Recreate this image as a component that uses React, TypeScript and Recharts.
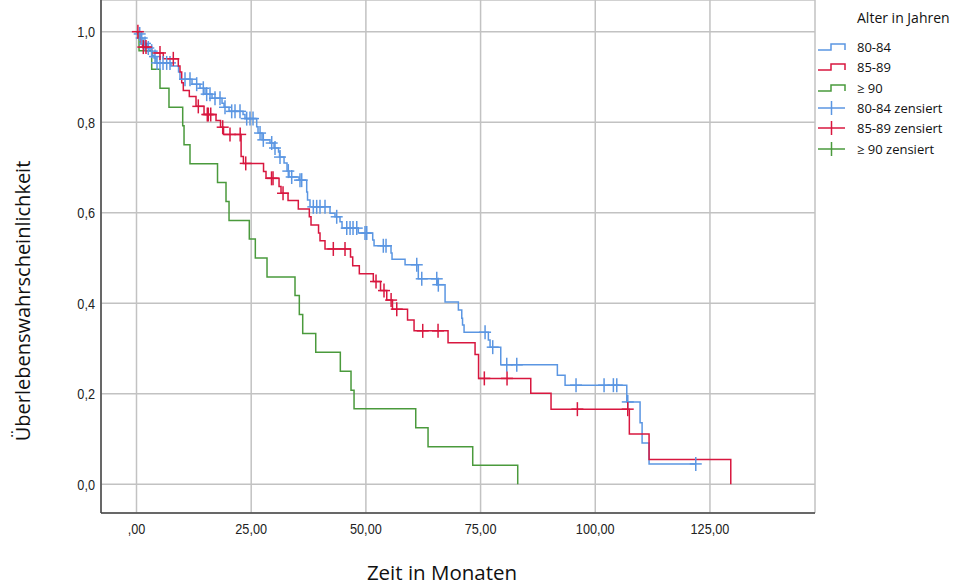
import React from "react";
import {
  ComposedChart,
  Line,
  Scatter,
  XAxis,
  YAxis,
  CartesianGrid,
} from "recharts";

// Kaplan-Meier: Zeitpunkte (Monate) und Überlebenswahrscheinlichkeit nach jedem Schritt
const t8084 = [0, 0.55, 0.98, 1.42, 1.85, 2.29, 2.94, 3.38, 3.82, 4.25, 7.52, 9.16, 9.48, 12.1, 13.84, 14.93, 16.46, 18.64, 19.08, 20.17, 23.22, 23.65, 26.2, 26.49, 27.36, 29.1, 29.98, 30.96, 31.18, 32.16, 32.81, 33.25, 35.43, 37.1, 37.28, 37.82, 42.18, 43.27, 44.36, 44.8, 48.35, 51.49, 51.78, 55.48, 55.7, 58.54, 61.43, 65.62, 67.26, 70.16, 70.9, 71.07, 71.4, 76.7, 77.07, 79.4, 91.74, 93.42, 106.87, 109.77, 110.21, 111.73, 121.91];
const s8084 = [1, 0.995, 0.986, 0.977, 0.971, 0.964, 0.957, 0.948, 0.942, 0.931, 0.924, 0.911, 0.895, 0.884, 0.875, 0.862, 0.853, 0.842, 0.833, 0.824, 0.817, 0.808, 0.79, 0.776, 0.761, 0.754, 0.743, 0.734, 0.723, 0.71, 0.692, 0.679, 0.672, 0.646, 0.628, 0.613, 0.599, 0.591, 0.58, 0.566, 0.555, 0.54, 0.527, 0.511, 0.497, 0.485, 0.454, 0.441, 0.403, 0.385, 0.367, 0.352, 0.336, 0.319, 0.303, 0.264, 0.241, 0.219, 0.182, 0.136, 0.091, 0.045, 0.045];

const t8589 = [0, 0.65, 0.98, 1.31, 3.31, 5.84, 9.11, 9.48, 9.85, 10.2, 11.51, 12.97, 14.72, 17.33, 18.31, 18.97, 22.8, 23.3, 27.69, 28.23, 31.07, 31.5, 33.03, 35.27, 37.67, 38.04, 39.68, 40.0, 41.09, 46.65, 47.13, 48.57, 51.62, 53.19, 54.55, 55.8, 59.08, 60.5, 67.91, 73.8, 74.56, 85.94, 90.36, 107.43, 111.73, 129.54];
const s8589 = [1, 0.986, 0.973, 0.966, 0.953, 0.94, 0.924, 0.911, 0.887, 0.87, 0.857, 0.835, 0.817, 0.804, 0.789, 0.773, 0.724, 0.709, 0.691, 0.676, 0.658, 0.643, 0.627, 0.608, 0.591, 0.573, 0.555, 0.538, 0.52, 0.502, 0.483, 0.465, 0.448, 0.428, 0.407, 0.387, 0.363, 0.339, 0.313, 0.287, 0.234, 0.201, 0.166, 0.111, 0.055, 0];

const t90 = [0, 0.55, 3.31, 5.12, 7.08, 10.07, 10.36, 11.66, 17.66, 19.51, 20.17, 24.59, 25.9, 28.45, 34.55, 35.49, 36.23, 39.07, 44.43, 46.76, 47.42, 60.87, 63.55, 73.29, 83.1];
const s90 = [1, 0.958, 0.917, 0.875, 0.833, 0.792, 0.75, 0.708, 0.667, 0.625, 0.583, 0.542, 0.5, 0.458, 0.417, 0.375, 0.333, 0.292, 0.25, 0.208, 0.167, 0.125, 0.083, 0.042, 0];

// zensierte Fälle
const c8084t = [0.7, 1.13, 1.85, 2.57, 3.31, 4.03, 4.47, 5.12, 5.78, 6.58, 7.3, 10.57, 11.66, 13.12, 14.56, 15.3, 16.02, 17.11, 18.2, 19.29, 20.75, 21.47, 22.56, 24.02, 24.74, 25.4, 26.93, 27.64, 29.47, 30.19, 31.28, 33.09, 33.83, 35.64, 36.01, 38.54, 39.28, 40.0, 41.09, 43.64, 45.83, 46.55, 47.2, 48.01, 49.81, 50.19, 53.8, 54.39, 61.09, 62.18, 65.45, 65.79, 75.98, 77.65, 80.71, 82.89, 95.81, 101.92, 103.95, 104.69, 107.09, 121.91];
const c8084s = [0.995, 0.986, 0.974, 0.964, 0.957, 0.945, 0.931, 0.931, 0.931, 0.931, 0.931, 0.895, 0.895, 0.884, 0.875, 0.862, 0.862, 0.853, 0.853, 0.833, 0.824, 0.824, 0.824, 0.808, 0.808, 0.808, 0.776, 0.761, 0.754, 0.743, 0.723, 0.692, 0.679, 0.672, 0.672, 0.613, 0.613, 0.613, 0.613, 0.591, 0.566, 0.566, 0.566, 0.566, 0.555, 0.555, 0.527, 0.527, 0.485, 0.454, 0.454, 0.441, 0.336, 0.303, 0.264, 0.264, 0.219, 0.219, 0.219, 0.219, 0.182, 0.045];

const c8589t = [0.3, 1.48, 2.07, 5.12, 8.02, 13.47, 15.43, 15.65, 16.18, 18.79, 20.38, 22.6, 23.81, 29.43, 29.76, 31.94, 42.9, 45.45, 52.21, 53.95, 55.5, 56.73, 62.39, 65.73, 75.82, 80.77, 96.1, 107.08];
const c8589s = [1, 0.966, 0.966, 0.953, 0.94, 0.835, 0.817, 0.817, 0.817, 0.789, 0.773, 0.773, 0.709, 0.676, 0.676, 0.643, 0.52, 0.52, 0.448, 0.428, 0.407, 0.387, 0.339, 0.339, 0.234, 0.234, 0.166, 0.166];

const xTicks = [0, 25, 50, 75, 100, 125];
const yTicks = [0, 0.2, 0.4, 0.6, 0.8, 1.0];

const groups = ["80-84", "85-89", "≥ 90"];
const colors = ["#5b96e2", "#d8173f", "#4a9a3c"];

const toRows = (t: number[], s: number[]) => t.map((v, i) => ({ t: v, s: s[i] }));

const curves = [toRows(t8084, s8084), toRows(t8589, s8589), toRows(t90, s90)];
const censored = [toRows(c8084t, c8084s), toRows(c8589t, c8589s), [] as { t: number; s: number }[]];

const tickFamily = "'Liberation Sans', Arial, sans-serif";
const titleFont = "'Open Sans', 'Noto Sans', sans-serif";

const fmtX = (v: number) => (v === 0 ? ",00" : v.toFixed(2).replace(".", ","));
const fmtY = (v: number) => v.toFixed(1).replace(".", ",");

// schmale Tick-Beschriftung (gestauchte Schrift)
const XTick = (props: any) => {
  const { x, y, payload } = props;
  return (
    <text
      transform={`translate(${x}, ${y + 13}) scale(0.82, 1)`}
      textAnchor="middle"
      fontFamily={tickFamily}
      fontSize={15.5}
      fill="#222"
    >
      {fmtX(payload.value)}
    </text>
  );
};

const YTick = (props: any) => {
  const { x, y, payload } = props;
  return (
    <text
      transform={`translate(${x + 2}, ${y + 5.5}) scale(0.82, 1)`}
      textAnchor="end"
      fontFamily={tickFamily}
      fontSize={15.5}
      fill="#222"
    >
      {fmtY(payload.value)}
    </text>
  );
};

const Cross = (color: string) => (props: any) => {
  const { cx, cy } = props;
  if (cx == null || cy == null) return <g />;
  return (
    <g stroke={color} strokeWidth={1.5}>
      <line x1={cx - 6} y1={cy} x2={cx + 6} y2={cy} />
      <line x1={cx} y1={cy - 7} x2={cx} y2={cy + 7} />
    </g>
  );
};

const XTitle = () => (
  <text x={442} y={580} textAnchor="middle" fontFamily={titleFont} fontSize={20.5} fill="#111">
    Zeit in Monaten
  </text>
);

const YTitle = () => (
  <text
    x={22}
    y={301}
    textAnchor="middle"
    dominantBaseline="central"
    transform="rotate(-90, 22, 301)"
    fontFamily={titleFont}
    fontSize={20}
    fill="#111"
  >
    Überlebenswahrscheinlichkeit
  </text>
);

const StepIcon = ({ color }: { color: string }) => (
  <svg width={30} height={12} style={{ display: "block" }}>
    <polyline points="1,9 14,9 14,3 28,3 28,9" fill="none" stroke={color} strokeWidth={1.5} />
  </svg>
);

const CrossIcon = ({ color }: { color: string }) => (
  <svg width={30} height={16} style={{ display: "block" }}>
    <line x1={1} y1={8} x2={28} y2={8} stroke={color} strokeWidth={1.5} />
    <line x1={14.5} y1={1} x2={14.5} y2={15} stroke={color} strokeWidth={1.5} />
  </svg>
);

const legendRows = [
  ...groups.map((g, i) => ({ label: g, icon: <StepIcon color={colors[i]} /> })),
  ...groups.map((g, i) => ({ label: `${g} zensiert`, icon: <CrossIcon color={colors[i]} /> })),
];

const LegendBox = () => (
  <div style={{ position: "absolute", left: 817, top: 8, fontFamily: titleFont, fontSize: 13, color: "#111" }}>
    <div style={{ marginLeft: 40, height: 20, lineHeight: "20px", fontSize: 14 }}>Alter in Jahren</div>
    <div style={{ marginTop: 9 }}>
      {legendRows.map((r, i) => (
        <div key={i} style={{ display: "flex", alignItems: "center", height: 20.3 }}>
          <div style={{ width: 40 }}>{r.icon}</div>
          <span>{r.label}</span>
        </div>
      ))}
    </div>
  </div>
);

export default function App() {
  return (
    <div style={{ position: "absolute", left: 0, top: 0, width: 961, height: 585, background: "#fff" }}>
      <ComposedChart width={961} height={585} margin={{ top: 0, right: 146, bottom: 42, left: 41 }}>
        <CartesianGrid stroke="#c2c2c2" strokeWidth={1.5} />
        <XAxis
          type="number"
          dataKey="t"
          domain={[-7.74, 147.9]}
          ticks={xTicks}
          allowDataOverflow
          height={30}
          tickLine={false}
          axisLine={{ stroke: "#444", strokeWidth: 1.5 }}
          tick={<XTick />}
          label={<XTitle />}
        />
        <YAxis
          type="number"
          dataKey="s"
          domain={[-0.0634, 1.07]}
          ticks={yTicks}
          allowDataOverflow
          width={60}
          tickLine={false}
          axisLine={{ stroke: "#444", strokeWidth: 1.5 }}
          tick={<YTick />}
          label={<YTitle />}
        />
        {curves.map((d, i) => (
          <Line
            key={`l${i}`}
            data={d}
            dataKey="s"
            type="stepAfter"
            stroke={colors[i]}
            strokeWidth={1.5}
            dot={false}
            isAnimationActive={false}
          />
        ))}
        {censored.map((d, i) => (
          <Scatter
            key={`c${i}`}
            data={d}
            dataKey="s"
            shape={Cross(colors[i])}
            isAnimationActive={false}
          />
        ))}
      </ComposedChart>
      <LegendBox />
    </div>
  );
}
